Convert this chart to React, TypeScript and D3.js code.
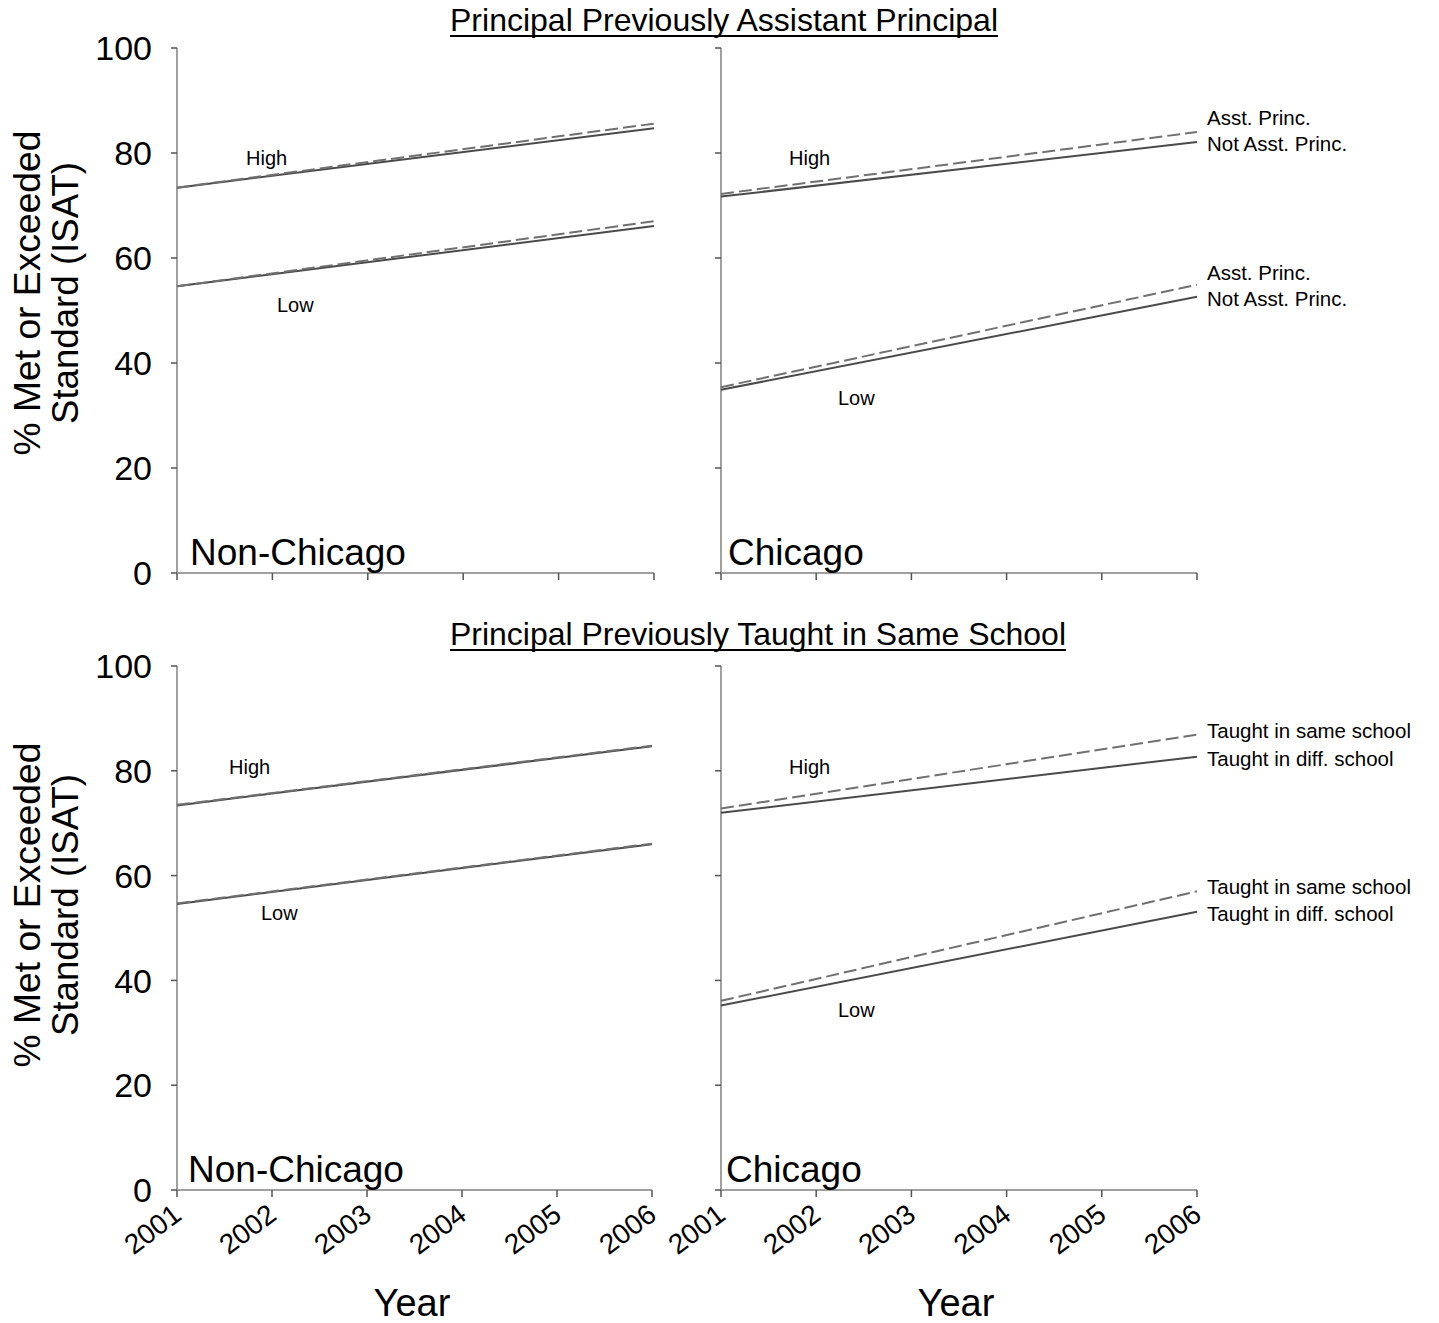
import React from "react";
import * as d3 from "d3";

const years = [2001, 2002, 2003, 2004, 2005, 2006];
const yTicks = [0, 20, 40, 60, 80, 100];

// trend endpoints [2001, 2006]
const tlHighAP = [73.4, 85.6];
const tlHighNot = [73.4, 84.7];
const tlLowAP = [54.6, 67.0];
const tlLowNot = [54.6, 66.1];

const trHighAP = [72.2, 84.0];
const trHighNot = [71.7, 82.1];
const trLowAP = [35.4, 54.9];
const trLowNot = [34.9, 52.6];

const blHighSame = [73.5, 84.8];
const blHighDiff = [73.4, 84.7];
const blLowSame = [54.7, 66.1];
const blLowDiff = [54.6, 66.0];

const brHighSame = [72.8, 86.9];
const brHighDiff = [72.0, 82.7];
const brLowSame = [36.1, 57.0];
const brLowDiff = [35.2, 53.1];

const titles = ["Principal Previously Assistant Principal", "Principal Previously Taught in Same School"];
const regionNames = ["Non-Chicago", "Chicago"];
const apLabels = ["Asst. Princ.", "Not Asst. Princ."];
const tsLabels = ["Taught in same school", "Taught in diff. school"];

const FONT = "Liberation Sans, Arial, sans-serif";
const AXIS = "#a0a0a0";

type Panel = {
  x0: number; x1: number; yTop: number; yBot: number;
  dashed: number[][]; solid: number[][];
  region: string; regionX: number; showYLabels: boolean; showXLabels: boolean;
  rightLabels: string[] | null;
  highPos: [number, number]; lowPos: [number, number];
};

const panels: Panel[] = [
  { x0: 177, x1: 654, yTop: 48, yBot: 573, dashed: [tlHighAP, tlLowAP], solid: [tlHighNot, tlLowNot], region: regionNames[0], regionX: 190, showYLabels: true, showXLabels: false, rightLabels: null, highPos: [246, 165], lowPos: [277, 312] },
  { x0: 721, x1: 1197, yTop: 48, yBot: 573, dashed: [trHighAP, trLowAP], solid: [trHighNot, trLowNot], region: regionNames[1], regionX: 728, showYLabels: false, showXLabels: false, rightLabels: apLabels, highPos: [789, 165], lowPos: [838, 405] },
  { x0: 177, x1: 652, yTop: 666, yBot: 1190, dashed: [blHighSame, blLowSame], solid: [blHighDiff, blLowDiff], region: regionNames[0], regionX: 188, showYLabels: true, showXLabels: true, rightLabels: null, highPos: [229, 774], lowPos: [261, 920] },
  { x0: 721, x1: 1197, yTop: 666, yBot: 1190, dashed: [brHighSame, brLowSame], solid: [brHighDiff, brLowDiff], region: regionNames[1], regionX: 726, showYLabels: false, showXLabels: true, rightLabels: tsLabels, highPos: [789, 774], lowPos: [838, 1017] },
];

function PanelView({ p }: { p: Panel }) {
  const x = d3.scaleLinear().domain([2001, 2006]).range([p.x0, p.x1]);
  const y = d3.scaleLinear().domain([0, 100]).range([p.yBot, p.yTop]);
  const line = d3.line<[number, number]>().x((d) => x(d[0])).y((d) => y(d[1]));
  const pts = (v: number[]) => [[2001, v[0]], [2006, v[1]]] as [number, number][];
  return (
    <g>
      <line x1={p.x0} x2={p.x0} y1={p.yTop} y2={p.yBot} stroke={AXIS} strokeWidth={2} />
      <line x1={p.x0} x2={p.x1} y1={p.yBot} y2={p.yBot} stroke={AXIS} strokeWidth={2} />
      {yTicks.map((t) => (
        <g key={t}>
          <line x1={p.x0 - 6} x2={p.x0} y1={y(t)} y2={y(t)} stroke="#555" strokeWidth={1.5} />
          {p.showYLabels && (
            <text x={p.x0 - 25} y={y(t)} dy="0.36em" textAnchor="end" fontSize={34} fontFamily={FONT} fill="#000">{t}</text>
          )}
        </g>
      ))}
      {years.map((yr) => (
        <g key={yr}>
          <line x1={x(yr)} x2={x(yr)} y1={p.yBot} y2={p.yBot + 7} stroke="#555" strokeWidth={1.5} />
          {p.showXLabels && (
            <text transform={`translate(${x(yr) - 6},${p.yBot + 12}) rotate(-37)`} textAnchor="end" dy="0.72em" fontSize={28} fontFamily={FONT} fill="#000">{yr}</text>
          )}
        </g>
      ))}
      {p.solid.map((v, i) => (
        <path key={"s" + i} d={line(pts(v)) || ""} fill="none" stroke="#4a4a4a" strokeWidth={2} />
      ))}
      {p.dashed.map((v, i) => (
        <path key={"d" + i} d={line(pts(v)) || ""} fill="none" stroke="#707070" strokeWidth={2} strokeDasharray="13,5" />
      ))}
      <text x={p.highPos[0]} y={p.highPos[1]} fontSize={20} fontFamily={FONT}>High</text>
      <text x={p.lowPos[0]} y={p.lowPos[1]} fontSize={20} fontFamily={FONT}>Low</text>
      <text x={p.regionX} y={p.yBot - 8} fontSize={37} fontFamily={FONT}>{p.region}</text>
      {p.rightLabels && [0, 1].map((g) => (
        <g key={g}>
          <text x={p.x1 + 10} y={Math.min(y(p.dashed[g][1]), y(p.solid[g][1]) - 20) + 3} fontSize={20.5} fontFamily={FONT}>{p.rightLabels![0]}</text>
          <text x={p.x1 + 10} y={y(p.solid[g][1]) + 9} fontSize={20.5} fontFamily={FONT}>{p.rightLabels![1]}</text>
        </g>
      ))}
    </g>
  );
}

export default function App() {
  return (
    <svg width={1439} height={1323} style={{ position: "absolute", left: 0, top: 0, background: "#fff" }}>
      <rect width={1439} height={1323} fill="#fff" />
      <text x={450} y={31} fontSize={32} fontFamily={FONT} textLength={548} lengthAdjust="spacingAndGlyphs">{titles[0]}</text>
      <line x1={450} x2={998} y1={36} y2={36} stroke="#000" strokeWidth={2} />
      <text x={450} y={645} fontSize={32} fontFamily={FONT} textLength={616} lengthAdjust="spacingAndGlyphs">{titles[1]}</text>
      <line x1={450} x2={1066} y1={650} y2={650} stroke="#000" strokeWidth={2} />
      {panels.map((p, i) => <PanelView key={i} p={p} />)}
      {[293, 905].map((cy, i) => (
        <g key={i} transform={`translate(0,${cy}) rotate(-90)`}>
          <text x={0} y={40} textAnchor="middle" fontSize={36} fontFamily={FONT} textLength={325} lengthAdjust="spacingAndGlyphs">% Met or Exceeded</text>
          <text x={0} y={78} textAnchor="middle" fontSize={36} fontFamily={FONT} textLength={262} lengthAdjust="spacingAndGlyphs">Standard (ISAT)</text>
        </g>
      ))}
      <text x={412} y={1316} textAnchor="middle" fontSize={38} fontFamily={FONT}>Year</text>
      <text x={956} y={1316} textAnchor="middle" fontSize={38} fontFamily={FONT}>Year</text>
    </svg>
  );
}
